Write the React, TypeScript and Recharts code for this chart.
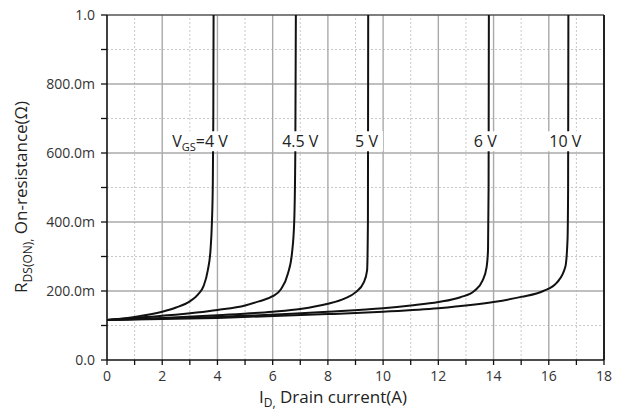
import { LineChart, Line, XAxis, YAxis, ReferenceLine, ReferenceDot } from "recharts";

// axis ticks
const currentTicks = [0, 1, 2, 3, 4, 5, 6, 7, 8, 9, 10, 11, 12, 13, 14, 15, 16, 17, 18];
const resistanceTicks = [0, 0.1, 0.2, 0.3, 0.4, 0.5, 0.6, 0.7, 0.8, 0.9, 1.0];
const majorCurrentGrid = [2, 4, 6, 8, 10, 12, 14, 16];
const minorCurrentGrid = [1, 3, 5, 7, 9, 11, 13, 15, 17];
const majorResistanceGrid = [0.2, 0.4, 0.6, 0.8];
const minorResistanceGrid = [0.1, 0.3, 0.5, 0.7, 0.9];

// curves (I in A, R in ohm)
const vgs4Current = [0, 1, 2, 2.5, 3, 3.3, 3.5, 3.65, 3.75, 3.8, 3.83, 3.85, 3.86];
const vgs4Resistance = [0.116, 0.125, 0.14, 0.152, 0.17, 0.19, 0.215, 0.26, 0.32, 0.4, 0.5, 0.7, 1.0];

const vgs45Current = [0, 2, 4, 5, 5.5, 6, 6.3, 6.55, 6.7, 6.78, 6.82, 6.84];
const vgs45Resistance = [0.116, 0.128, 0.145, 0.158, 0.17, 0.185, 0.205, 0.25, 0.31, 0.4, 0.6, 1.0];

const vgs5Current = [0, 2, 4, 6, 7, 8, 8.6, 9, 9.3, 9.42, 9.45, 9.46];
const vgs5Resistance = [0.116, 0.122, 0.13, 0.14, 0.148, 0.163, 0.178, 0.196, 0.225, 0.26, 0.4, 1.0];

const vgs6Current = [0, 4, 8, 10, 11, 12, 12.8, 13.3, 13.6, 13.75, 13.8, 13.82, 13.83];
const vgs6Resistance = [0.116, 0.125, 0.14, 0.15, 0.158, 0.168, 0.182, 0.2, 0.23, 0.27, 0.32, 0.5, 1.0];

const vgs10Current = [0, 4, 8, 10, 12, 14, 15, 15.8, 16.3, 16.6, 16.68, 16.7, 16.71];
const vgs10Resistance = [0.116, 0.122, 0.133, 0.14, 0.15, 0.168, 0.183, 0.2, 0.225, 0.27, 0.35, 0.5, 1.0];

// curve labels
const labelNames = ["4 V", "4.5 V", "5 V", "6 V", "10 V"];
const labelCurrent = [3.37, 7.0, 9.4, 13.7, 16.6];
const labelResistance = [0.634, 0.634, 0.634, 0.634, 0.634];

const toSeries = (xs: number[], ys: number[]) => xs.map((i, k) => ({ i, r: ys[k] }));

const curves = [
  toSeries(vgs4Current, vgs4Resistance),
  toSeries(vgs45Current, vgs45Resistance),
  toSeries(vgs5Current, vgs5Resistance),
  toSeries(vgs6Current, vgs6Resistance),
  toSeries(vgs10Current, vgs10Resistance),
];

const FONT = "'Open Sans', 'Noto Sans', sans-serif";

const formatResistance = (v: number) => {
  if (v === 0) return "0.0";
  if (v >= 1) return "1.0";
  return `${Math.round(v * 1000)}.0m`;
};

const XTick = (props: any) => {
  const { x, y, payload } = props;
  const major = Math.round(payload.value) % 2 === 0;
  return (
    <g>
      <line x1={x} x2={x} y1={y} y2={y + 5} stroke="#111" strokeWidth={1.3} />
      {major && (
        <text x={x} y={y + 21} textAnchor="middle" fontSize={14} fill="#333" fontFamily={FONT}>
          {payload.value}
        </text>
      )}
    </g>
  );
};

const YTick = (props: any) => {
  const { x, y, payload } = props;
  const v = Math.round(payload.value * 10);
  const major = v % 2 === 0;
  return (
    <g>
      <line x1={x - 6} x2={x} y1={y} y2={y} stroke="#111" strokeWidth={1.3} />
      {major && (
        <text x={x - 12} y={y + 5} textAnchor="end" fontSize={14} fill="#333" fontFamily={FONT}>
          {formatResistance(payload.value)}
        </text>
      )}
    </g>
  );
};

const CurveLabel = (text: string, first: boolean) => (props: any) => {
  const { cx, cy } = props;
  const w = first ? 70 : text.length * 9 + 6;
  return (
    <g>
      <rect x={cx - w / 2} y={cy - 10} width={w} height={20} fill="#fff" />
      <text x={cx} y={cy + 6} textAnchor="middle" fontSize={16} fill="#222" fontFamily={FONT}>
        {first ? (
          <>
            <tspan>V</tspan>
            <tspan fontSize={11} dy={4}>GS</tspan>
            <tspan dy={-4}>={text}</tspan>
          </>
        ) : (
          text
        )}
      </text>
    </g>
  );
};

export default function App() {
  return (
    <div style={{ position: "absolute", left: 0, top: 0, background: "#fff" }}>
      <LineChart width={634} height={412} margin={{ top: 15, right: 30, bottom: 22, left: 47 }}>
        <XAxis
          type="number"
          dataKey="i"
          domain={[0, 18]}
          ticks={currentTicks}
          interval={0}
          tickSize={0}
          tickMargin={0}
          tick={<XTick />}
          height={30}
          axisLine={{ stroke: "#111", strokeWidth: 1.6 }}
          allowDataOverflow
        />
        <YAxis
          type="number"
          domain={[0, 1]}
          ticks={resistanceTicks}
          interval={0}
          tickSize={0}
          tickMargin={0}
          tick={<YTick />}
          width={60}
          axisLine={{ stroke: "#111", strokeWidth: 1.6 }}
          allowDataOverflow
        />
        {minorCurrentGrid.map((v) => (
          <ReferenceLine key={`mx${v}`} x={v} stroke="#c8c8c8" strokeDasharray="2 2" strokeWidth={1} />
        ))}
        {minorResistanceGrid.map((v) => (
          <ReferenceLine key={`my${v}`} y={v} stroke="#c8c8c8" strokeDasharray="2 2" strokeWidth={1} />
        ))}
        {majorCurrentGrid.map((v) => (
          <ReferenceLine key={`Mx${v}`} x={v} stroke="#aaa" strokeWidth={1.4} />
        ))}
        {majorResistanceGrid.map((v) => (
          <ReferenceLine key={`My${v}`} y={v} stroke="#aaa" strokeWidth={1.4} />
        ))}
        <ReferenceLine y={1} stroke="#555" strokeWidth={1.4} />
        <ReferenceLine x={18} stroke="#222" strokeWidth={2} />
        {curves.map((data, k) => (
          <Line
            key={`c${k}`}
            data={data}
            dataKey="r"
            type="monotone"
            stroke="#111"
            strokeWidth={2}
            dot={false}
            isAnimationActive={false}
          />
        ))}
        {labelNames.map((name, k) => (
          <ReferenceDot
            key={`l${k}`}
            x={labelCurrent[k]}
            y={labelResistance[k]}
            r={0}
            zIndex={1500}
            shape={CurveLabel(name, k === 0)}
          />
        ))}
        <text
          transform="translate(27,197) rotate(-90)"
          textAnchor="middle"
          fontSize={17}
          fill="#222"
          fontFamily={FONT}
        >
          <tspan>R</tspan>
          <tspan fontSize={12} dy={5}>DS(ON),</tspan>
          <tspan dy={-5}> On-resistance(Ω)</tspan>
        </text>
        <text x={333} y={403} textAnchor="middle" fontSize={17} fill="#222" fontFamily={FONT}>
          <tspan>I</tspan>
          <tspan fontSize={12} dy={4}>D,</tspan>
          <tspan dy={-4}> Drain current(A)</tspan>
        </text>
      </LineChart>
    </div>
  );
}
